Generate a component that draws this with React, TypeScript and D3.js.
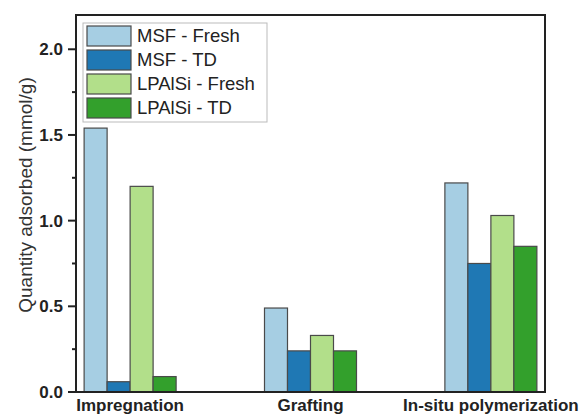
import React from "react";
import * as d3 from "d3";

const categories = ["Impregnation", "Grafting", "In-situ polymerization"];
const seriesNames = ["MSF - Fresh", "MSF - TD", "LPAlSi - Fresh", "LPAlSi - TD"];
const msfFresh = [1.54, 0.49, 1.22];
const msfTD = [0.06, 0.24, 0.75];
const lpFresh = [1.2, 0.33, 1.03];
const lpTD = [0.09, 0.24, 0.85];
const seriesValues = [msfFresh, msfTD, lpFresh, lpTD];
const colors = ["#a6cee3", "#1f78b4", "#b2df8a", "#33a02c"];
const yTicks = [0, 0.5, 1.0, 1.5, 2.0];
const yMinorTicks = [0.25, 0.75, 1.25, 1.75];

const W = 582;
const H = 416;
const left = 76, right = 545, top = 15, bottom = 392;
const font = "'Liberation Sans', Arial, sans-serif";

export default function App() {
  const y = d3.scaleLinear().domain([0, 2.2]).range([bottom, top]);
  const x = d3.scalePoint<string>().domain(categories).range([left, right]).padding(0.3);
  const barW = 23;
  const sub = d3.scaleBand<number>().domain([0, 1, 2, 3]).range([-2 * barW, 2 * barW]).padding(0);

  return (
    <svg width={W} height={H} style={{ position: "absolute", left: 0, top: 0 }}>
      <rect width={W} height={H} fill="#fff" />
      {categories.map((c, i) =>
        seriesValues.map((vals, s) => (
          <rect
            key={c + s}
            x={(x(c) as number) + (sub(s) as number)}
            y={y(vals[i])}
            width={sub.bandwidth()}
            height={y(0) - y(vals[i])}
            fill={colors[s]}
            stroke="#4a4a4a"
            strokeWidth={1.2}
          />
        ))
      )}
      {/* frame */}
      <rect x={left} y={top} width={right - left} height={bottom - top} fill="none" stroke="#222" strokeWidth={2} />
      {/* y ticks */}
      {yTicks.map((t) => (
        <g key={t}>
          <line x1={left - 8} x2={left} y1={y(t)} y2={y(t)} stroke="#222" strokeWidth={2} />
          <text x={left - 13} y={y(t)} dy="0.35em" textAnchor="end" fontFamily={font} fontWeight="bold" fontSize={17} fill="#222">
            {d3.format(".1f")(t)}
          </text>
        </g>
      ))}
      {yMinorTicks.map((t) => (
        <line key={t} x1={left - 4} x2={left} y1={y(t)} y2={y(t)} stroke="#222" strokeWidth={2} />
      ))}
      {/* x labels */}
      {categories.map((c) => (
        <text key={c} x={x(c)} y={411} textAnchor="middle" fontFamily={font} fontWeight="bold" fontSize={17} fill="#222">
          {c}
        </text>
      ))}
      {/* y label */}
      <text
        transform={`translate(32,195) rotate(-90)`}
        textAnchor="middle"
        fontFamily={font}
        fontSize={19}
        fill="#333"
      >
        Quantity adsorbed (mmol/g)
      </text>
      {/* legend */}
      <rect x={83} y={23} width={184} height={99} fill="#fff" stroke="#bbb" strokeWidth={1} />
      {seriesNames.map((n, i) => (
        <g key={n}>
          <rect x={87} y={26 + i * 24} width={44} height={20} fill={colors[i]} stroke="#4a4a4a" strokeWidth={1.2} />
          <text x={137} y={36 + i * 24} dy="0.35em" fontFamily={font} fontSize={18.5} fill="#222">
            {n}
          </text>
        </g>
      ))}
    </svg>
  );
}
